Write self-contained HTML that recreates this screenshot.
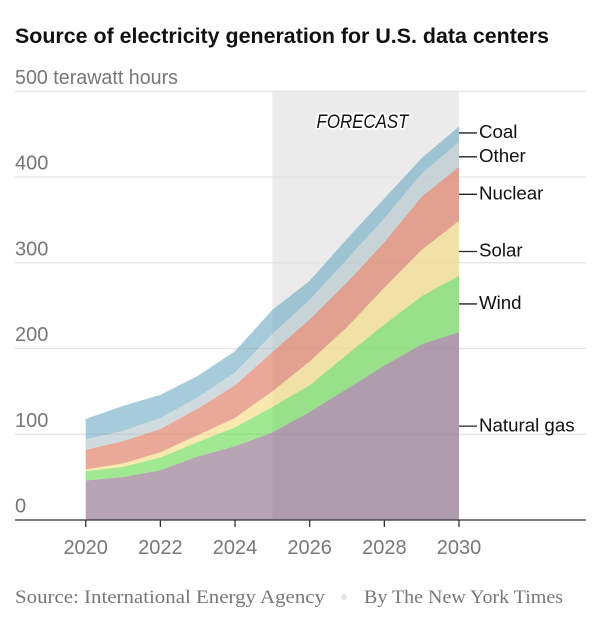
<!DOCTYPE html>
<html>
<head>
<meta charset="utf-8">
<style>
html,body{margin:0;padding:0;background:#fff;width:600px;height:624px;overflow:hidden}
svg{display:block}
text{font-family:"Liberation Sans",sans-serif}
</style>
</head>
<body>
<svg id="chart" width="600" height="624" viewBox="0 0 600 624">
<rect id="background" x="0" y="0" width="600" height="624" fill="#fff"/>
<text x="15" y="43" font-size="21" font-weight="700" fill="#111" textLength="534" lengthAdjust="spacingAndGlyphs">Source of electricity generation for U.S. data centers</text>
<rect id="forecast-band" y="91" height="429" fill="#ebebeb"/>
<g id="grid"></g>
<g id="areas"></g>
<g id="axis"></g>
<g id="ylabels"></g>
<g id="series-labels"></g>
<text x="362.5" y="128" text-anchor="middle" font-size="19" font-style="italic" fill="#111" stroke="#fff" stroke-width="4" paint-order="stroke" stroke-linejoin="round" textLength="92" lengthAdjust="spacingAndGlyphs">FORECAST</text>
<text x="15" y="603" font-size="19" fill="#777" style="font-family:'Liberation Serif',serif" textLength="310" lengthAdjust="spacingAndGlyphs">Source: International Energy Agency</text>
<circle cx="344" cy="597" r="3" fill="#e2e2e2"/>
<text x="364" y="603" font-size="19" fill="#777" style="font-family:'Liberation Serif',serif" textLength="199" lengthAdjust="spacingAndGlyphs">By The New York Times</text>
</svg>
<script>
const years = [2020,2021,2022,2023,2024,2025,2026,2027,2028,2029,2030];
const xTickYears = [2020,2022,2024,2026,2028,2030];
const yTicks = [0,100,200,300,400,500];
const forecastStartYear = 2025;
const seriesNames = ["Natural gas","Wind","Solar","Nuclear","Other","Coal"];
const naturalGas = [46,50,58,74,86,102,126,153,180,205,219];
const wind = [11,12,15,17,22,30,31,40,48,56,66];
const solar = [2,4,6,8,11,18,28,32,43,54,64];
const nuclear = [23,26,27,31,38,46,49,52,53,62,63];
const other = [12,12,13,13,15,21,23,27,28,27,29];
const coal = [24,29,27,25,25,28,22,24,23,18,18];
const seriesValues = [naturalGas,wind,solar,nuclear,other,coal];
const seriesColors = ["#876784","#61d948","#f5da78","#dc6e55","#b1c3ca","#6ba8c3"];
const labelBandFractions = [0.5,0.5,0.44,0.49,0.4,0.58];

const NS = "http://www.w3.org/2000/svg";
const xScale = y => 85.7 + (y - 2020) * (459 - 85.7) / 10;
const yScale = v => 520 - v * (520 - 91.3) / 500;
const make = (tag, attrs) => {
  const el = document.createElementNS(NS, tag);
  for (const k in attrs) el.setAttribute(k, attrs[k]);
  return el;
};
const slug = s => s.toLowerCase().replace(/\s+/g, "-");

const band = document.getElementById("forecast-band");
band.setAttribute("x", xScale(forecastStartYear));
band.setAttribute("width", xScale(years[years.length - 1]) - xScale(forecastStartYear));

yTicks.forEach(t => {
  if (t > 0) {
    const line = make("line", {x1:15, x2:586, y1:yScale(t), y2:yScale(t), stroke:"#e2e2e2", "stroke-width":1.2});
    
    
    document.getElementById("grid").appendChild(line);
  }
  const label = make("text", {x:15, y:yScale(t) - 7.5, "font-size":20, fill:"#777"});
  if (t === 500) {
    label.setAttribute("textLength", 163);
    label.setAttribute("lengthAdjust", "spacingAndGlyphs");
  }
  label.textContent = t === 500 ? "500 terawatt hours" : String(t);
  
  
  document.getElementById("ylabels").appendChild(label);
});

let base = years.map(() => 0);
const labelValues = [];
seriesValues.forEach((vals, i) => {
  const top = vals.map((v, j) => base[j] + v);
  const pts = years.map((y, j) => xScale(y) + "," + yScale(top[j]));
  const low = years.map((y, j) => xScale(y) + "," + yScale(base[j])).reverse();
  const poly = make("polygon", {points: pts.concat(low).join(" "), fill: seriesColors[i], "fill-opacity": 0.6});
  
  
  document.getElementById("areas").appendChild(poly);
  const last = base.length - 1;
  labelValues.push(base[last] + (top[last] - base[last]) * labelBandFractions[i]);
  base = top;
});

const axisG = document.getElementById("axis");
const axisLine = make("line", {x1:15, x2:586, y1:520, y2:520, stroke:"#333", "stroke-width":1.3});


axisG.appendChild(axisLine);
xTickYears.forEach(y => {
  const tick = make("line", {x1:xScale(y), x2:xScale(y), y1:520, y2:527, stroke:"#333", "stroke-width":1.3});
  
  
  axisG.appendChild(tick);
  const label = make("text", {x:xScale(y), y:554, "text-anchor":"middle", "font-size":20, fill:"#777"});
  label.textContent = String(y);
  
  
  axisG.appendChild(label);
});

const labelsG = document.getElementById("series-labels");
for (let i = seriesNames.length - 1; i >= 0; i--) {
  const ly = yScale(labelValues[i]);
  const x2030 = xScale(years[years.length - 1]);
  const leader = make("line", {x1:x2030, x2:x2030 + 18, y1:ly, y2:ly, stroke:"#222", "stroke-width":1.3});
  
  
  labelsG.appendChild(leader);
  const label = make("text", {x:x2030 + 20, y:ly + 5.2, "font-size":18.7, fill:"#111"});
  label.textContent = seriesNames[i];
  
  
  labelsG.appendChild(label);
}
</script>
</body>
</html>
